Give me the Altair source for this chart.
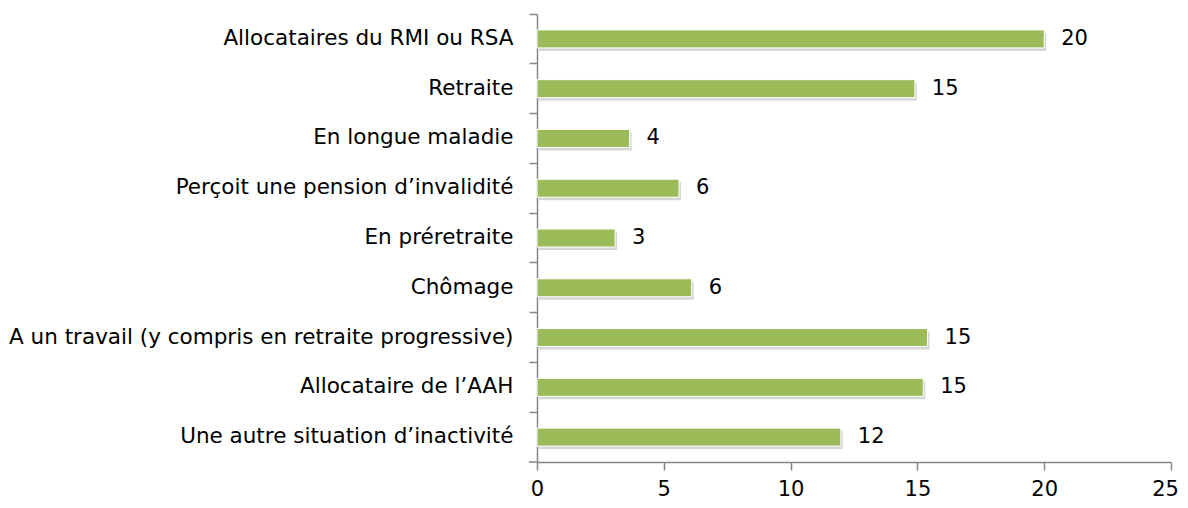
import altair as alt
import pandas as pd

categories = [
    "Allocataires du RMI ou RSA",
    "Retraite",
    "En longue maladie",
    "Perçoit une pension d’invalidité",
    "En préretraite",
    "Chômage",
    "A un travail (y compris en retraite progressive)",
    "Allocataire de l’AAH",
    "Une autre situation d’inactivité",
]
values = [20.0, 14.9, 3.65, 5.6, 3.08, 6.1, 15.4, 15.23, 11.98]
x_ticks = [0, 5, 10, 15, 20, 25]

df = pd.DataFrame({"cat": categories, "val": values})

W, H = 634, 448
FONT = "DejaVu Sans"
FS = 21
AXIS_COLOR = "#868686"
BAR_COLOR = "#9BBB59"

x_scale = alt.Scale(domain=[0, 25], nice=False)
y_scale = alt.Scale(paddingInner=0, paddingOuter=0)

y_enc = alt.Y(
    "cat:N",
    sort=categories,
    title=None,
    scale=y_scale,
    axis=alt.Axis(
        bandPosition=0,
        labelFont=FONT,
        labelFontSize=21.5,
        labelColor="#000000",
        labelPadding=16,
        labelLimit=700,
        tickSize=8,
        tickColor=AXIS_COLOR,
        tickWidth=1.5,
        domainColor=AXIS_COLOR,
        domainWidth=1.5,
    ),
)
x_enc = alt.X(
    "val:Q",
    title=None,
    scale=x_scale,
    axis=alt.Axis(
        values=x_ticks,
        grid=False,
        labelFont=FONT,
        labelFontSize=FS,
        labelColor="#000000",
        labelPadding=8,
        labelOffset=alt.condition("datum.value == 25", alt.value(-6), alt.value(0)),
        tickSize=8,
        tickColor=AXIS_COLOR,
        tickWidth=1.5,
        domainColor=AXIS_COLOR,
        domainWidth=1.5,
        labelFlush=False,
    ),
)

base = alt.Chart(df)

shadow = base.mark_bar(size=18, color="#000000", opacity=0.16, xOffset=2, yOffset=3).encode(
    x=x_enc, y=y_enc
)

bars = base.mark_bar(size=18, color=BAR_COLOR, stroke="#ffffff", strokeWidth=1).encode(
    x=x_enc, y=y_enc
)

labels = base.mark_text(
    align="left", baseline="middle", dx=17, font=FONT, fontSize=FS, color="#000000"
).encode(
    x=x_enc,
    y=y_enc,
    text=alt.Text("val:Q", format=".0f"),
)

bottom_tick = alt.Chart(pd.DataFrame({"a": [0]})).mark_rule(
    color=AXIS_COLOR, strokeWidth=1.5
).encode(x=alt.value(-8), x2=alt.value(0), y=alt.value(H))

chart = (
    alt.layer(shadow, bars, labels, bottom_tick)
    .properties(
        width=W,
        height=H,
        autosize=alt.AutoSizeParams(type="none"),
        padding={"left": 529, "top": 6, "right": 9, "bottom": 38},
        view=alt.ViewBackground(strokeOpacity=0, strokeWidth=0),
    )
    .configure_view(strokeOpacity=0, strokeWidth=0)
    .configure(background="#ffffff")
)

chart.save("out.html", embed_options={"renderer": "svg", "actions": False})
